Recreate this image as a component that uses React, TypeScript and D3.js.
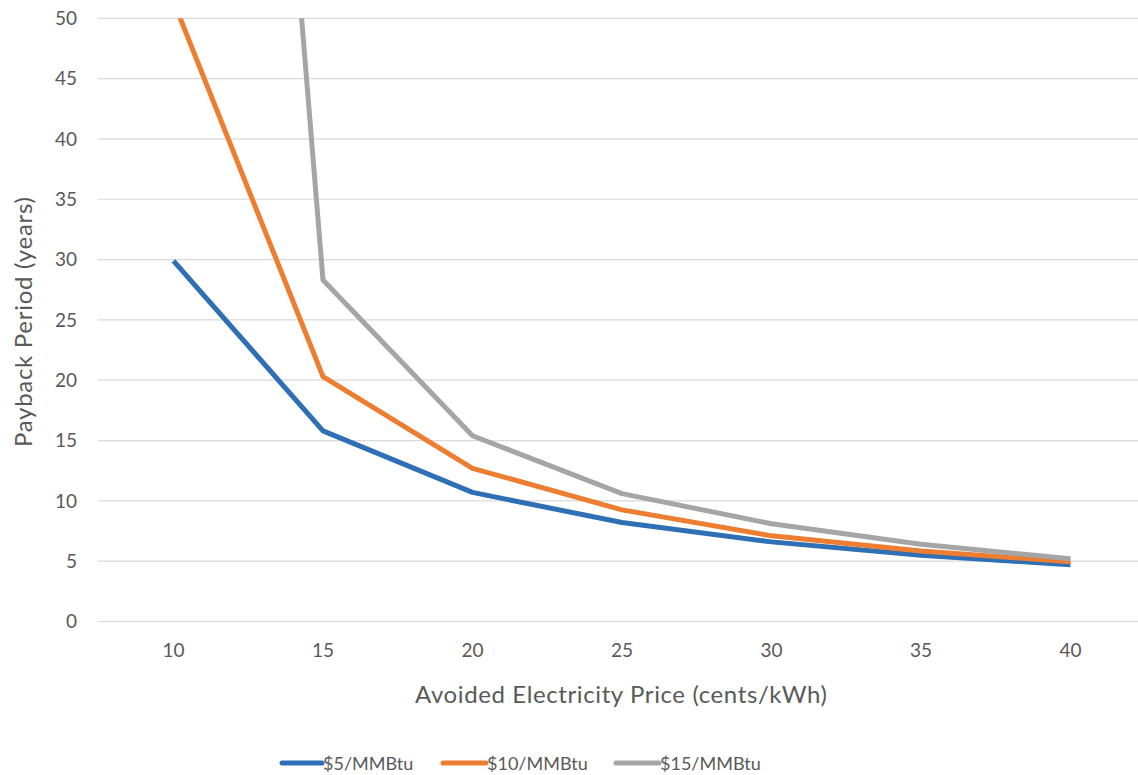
import React from "react";
import * as d3 from "d3";

// Avoided electricity price categories (cents/kWh)
const prices = ["10", "15", "20", "25", "30", "35", "40"];

// Payback period (years) at each gas price
const gas5 = [29.9, 15.8, 10.7, 8.2, 6.6, 5.5, 4.7];
const gas10 = [51.4, 20.3, 12.7, 9.25, 7.1, 5.85, 4.95];
const gas15 = [180, 28.3, 15.4, 10.6, 8.1, 6.4, 5.2];

const yTicks = [0, 5, 10, 15, 20, 25, 30, 35, 40, 45, 50];

const series = [
  { name: "$5/MMBtu", values: gas5, color: "#2E6FB5" },
  { name: "$10/MMBtu", values: gas10, color: "#ED7D31" },
  { name: "$15/MMBtu", values: gas15, color: "#A5A5A5" },
];

const W = 1138;
const H = 775;
const FONT = "Lato, 'Open Sans', sans-serif";
const TEXT = "#595959";

export default function App() {
  const x = d3.scalePoint<string>().domain(prices).range([98.75, 1145.25]).padding(0.5);
  const y = d3.scaleLinear().domain([0, 50]).range([621.5, 18.3]);

  const line = d3
    .line<number>()
    .x((_, i) => x(prices[i]) as number)
    .y((v) => y(v));

  const legendItems = [
    { x0: 282, x1: 322, tx: 323 },
    { x0: 443, x1: 486, tx: 487 },
    { x0: 616, x1: 659, tx: 660 },
  ];

  return (
    <svg
      width={W}
      height={H}
      style={{ position: "absolute", left: 0, top: 0, background: "#fff" }}
      fontFamily={FONT}
    >
      <defs>
        <clipPath id="plot">
          <rect x={90} y={y(50)} width={W} height={y(0) - y(50) + 10} />
        </clipPath>
      </defs>

      {/* horizontal gridlines */}
      {yTicks.map((t) => (
        <line
          key={t}
          x1={98}
          x2={W}
          y1={y(t)}
          y2={y(t)}
          stroke="#D9D9D9"
          strokeWidth={1.2}
        />
      ))}

      {/* y tick labels */}
      {yTicks.map((t) => (
        <text
          key={t}
          x={77}
          y={y(t)}
          dy="0.36em"
          textAnchor="end"
          fontSize={19}
          fill={TEXT}
        >
          {t}
        </text>
      ))}

      {/* x tick labels */}
      {prices.map((p) => (
        <text
          key={p}
          x={x(p)}
          y={657}
          textAnchor="middle"
          fontSize={19}
          fill={TEXT}
        >
          {p}
        </text>
      ))}

      {/* series lines */}
      <g clipPath="url(#plot)">
        {series.map((s) => (
          <path
            key={s.name}
            d={line(s.values) || ""}
            fill="none"
            stroke={s.color}
            strokeWidth={5}
            strokeLinejoin="round"
          />
        ))}
      </g>

      {/* axis titles */}
      <text
        x={621}
        y={703}
        textAnchor="middle"
        fontSize={24}
        fill={TEXT}
        textLength={412}
        lengthAdjust="spacing"
      >
        Avoided Electricity Price (cents/kWh)
      </text>
      <text
        transform={`translate(32, 322) rotate(-90)`}
        textAnchor="middle"
        fontSize={24}
        fill={TEXT}
        textLength={250}
        lengthAdjust="spacing"
      >
        Payback Period (years)
      </text>

      {/* legend */}
      {series.map((s, i) => {
        const li = legendItems[i];
        return (
          <g key={s.name}>
            <line
              x1={li.x0}
              x2={li.x1}
              y1={763}
              y2={763}
              stroke={s.color}
              strokeWidth={5}
              strokeLinecap="round"
            />
            <text x={li.tx} y={770} fontSize={18} fill={TEXT}>
              {s.name}
            </text>
          </g>
        );
      })}
    </svg>
  );
}
